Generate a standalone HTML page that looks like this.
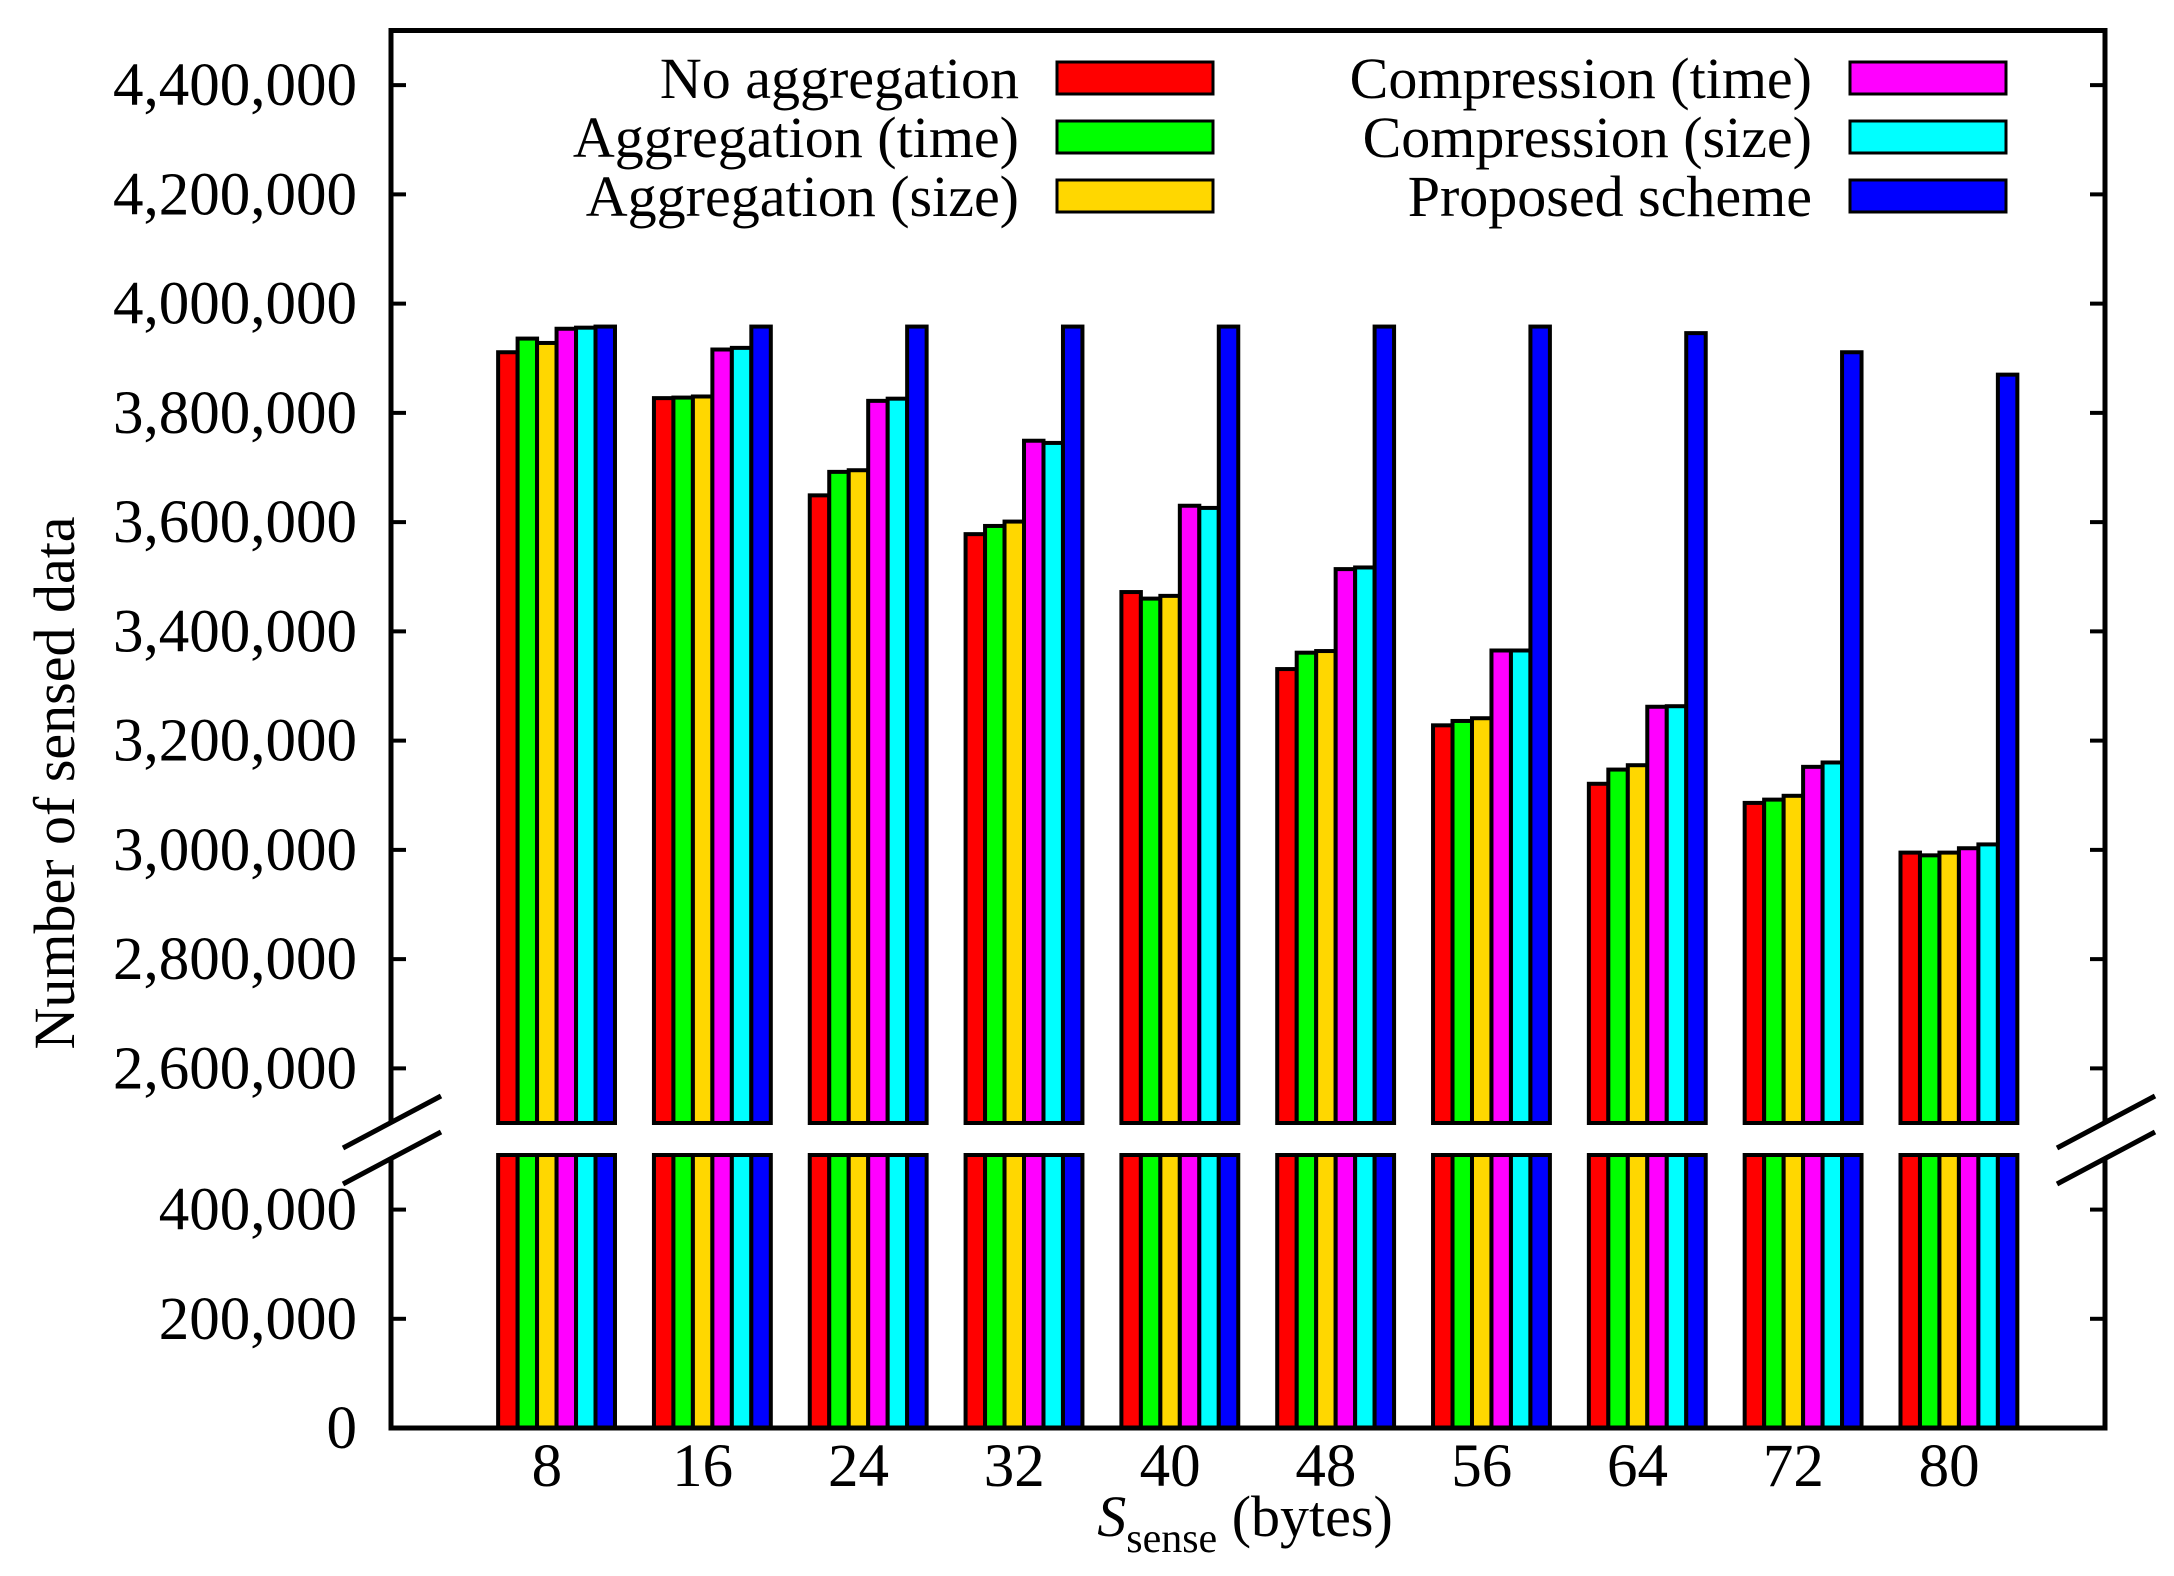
<!DOCTYPE html>
<html><head><meta charset="utf-8"><style>
html,body{margin:0;padding:0;background:#fff}
svg{display:block}
text{font-family:"Liberation Serif",serif;fill:#000}
</style></head><body>
<svg id="chart" width="2174" height="1576" viewBox="0 0 2174 1576" xmlns="http://www.w3.org/2000/svg"></svg>
<script>
const categories = [8,16,24,32,40,48,56,64,72,80];
const seriesNames = ["No aggregation","Aggregation (time)","Aggregation (size)","Compression (time)","Compression (size)","Proposed scheme"];
const noAggregation   = [3911000,3827000,3649000,3578000,3472000,3331000,3228000,3121000,3086000,2995000];
const aggTime         = [3936000,3828000,3692000,3593000,3460000,3361000,3236000,3147000,3092000,2990000];
const aggSize         = [3928000,3830000,3695000,3601000,3465000,3364000,3241000,3155000,3099000,2995000];
const compTime        = [3954000,3916000,3822000,3749000,3630000,3514000,3365000,3262000,3152000,3003000];
const compSize        = [3956000,3919000,3826000,3745000,3626000,3517000,3365000,3263000,3160000,3010000];
const proposed        = [3958000,3958000,3958000,3958000,3958000,3958000,3958000,3946000,3911000,3870000];
const upperTicks = [2600000,2800000,3000000,3200000,3400000,3600000,3800000,4000000,4200000,4400000];
const lowerTicks = [0,200000,400000];
const colors = ["#ff0000","#00ff00","#ffd700","#ff00ff","#00ffff","#0000ff"];
const series = [noAggregation,aggTime,aggSize,compTime,compSize,proposed];

const svg = document.getElementById('chart');
const NS = "http://www.w3.org/2000/svg";
function mk(tag, attrs){const e=document.createElementNS(NS,tag);for(const k in attrs)e.setAttribute(k,attrs[k]);svg.appendChild(e);return e;}

const L=391,R=2105,T=30.5,B=1428;
const upTop=T, upBot=1123, upMin=2500000, upMax=4500000;
const loTop=1155, loBot=B, loMin=0, loMax=500000;
const xMin=0,xMax=88;
function xS(v){return L+(v-xMin)/(xMax-xMin)*(R-L);}
function yU(v){return upBot-(v-upMin)/(upMax-upMin)*(upBot-upTop);}
function yL(v){return loBot-(v-loMin)/(loMax-loMin)*(loBot-loTop);}
const unit=(R-L)/(xMax-xMin);

for(let s=0;s<series.length;s++){
  for(let i=0;i<categories.length;i++){
    const x0=xS(categories[i])+(s-2.5)*unit;
    const yt=yU(series[s][i]);
    const r1=mk('rect',{x:x0,y:yt,width:unit,height:upBot-yt,fill:colors[s],stroke:'#000','stroke-width':4});
    
    
    const r2=mk('rect',{x:x0,y:loTop,width:unit,height:loBot-loTop,fill:colors[s],stroke:'#000','stroke-width':4});
    
    
  }
}
const frame=mk('rect',{x:L,y:T,width:R-L,height:B-T,fill:'none',stroke:'#000','stroke-width':5});


upperTicks.forEach(v=>{
  const y=yU(v);
  mk('line',{x1:L,y1:y,x2:L+15,y2:y,stroke:'#000','stroke-width':4});
  mk('line',{x1:R,y1:y,x2:R-15,y2:y,stroke:'#000','stroke-width':4});
  const t=mk('text',{x:L-34,y:y+20,'font-size':61,'text-anchor':'end'});
  t.textContent=v.toLocaleString('en-US');
  
  
});
lowerTicks.forEach(v=>{
  const y=yL(v);
  if(v>0){mk('line',{x1:L,y1:y,x2:L+15,y2:y,stroke:'#000','stroke-width':4});
  mk('line',{x1:R,y1:y,x2:R-15,y2:y,stroke:'#000','stroke-width':4});}
  const t=mk('text',{x:L-34,y:y+20,'font-size':61,'text-anchor':'end'});
  t.textContent=v.toLocaleString('en-US');
  
  
});
categories.forEach(c=>{
  const t=mk('text',{x:xS(c),y:B+58,'font-size':61,'text-anchor':'middle'});
  t.textContent=c;
  
  
});
[L,R].forEach(ax=>{
  mk('rect',{x:ax-5,y:1122,width:10,height:35,fill:'#fff'});
  mk('line',{x1:ax-48,y1:1148,x2:ax+50,y2:1096,stroke:'#000','stroke-width':5});
  mk('line',{x1:ax-48,y1:1184,x2:ax+50,y2:1132,stroke:'#000','stroke-width':5});
});
const legX=[1019,1812], boxX=[1057,1850], rowY=[78,137,196];
seriesNames.forEach((n,i)=>{
  const col=Math.floor(i/3), row=i%3;
  const t=mk('text',{x:legX[col],y:rowY[row]+20,'font-size':58,'text-anchor':'end'});
  t.textContent=n;
  
  
  const r=mk('rect',{x:boxX[col],y:rowY[row]-16,width:156,height:32,fill:colors[i],stroke:'#000','stroke-width':3});
  
  
});
const yt=mk('text',{x:0,y:0,'font-size':58,'text-anchor':'middle',transform:'translate(74,783) rotate(-90)'});
yt.textContent='Number of sensed data';


const xt=mk('text',{x:1245,y:1536,'font-size':58,'text-anchor':'middle'});


xt.innerHTML='<tspan font-style="italic">S</tspan><tspan font-size="42" dy="16">sense</tspan><tspan dy="-16"> (bytes)</tspan>';
</script>
</body></html>
